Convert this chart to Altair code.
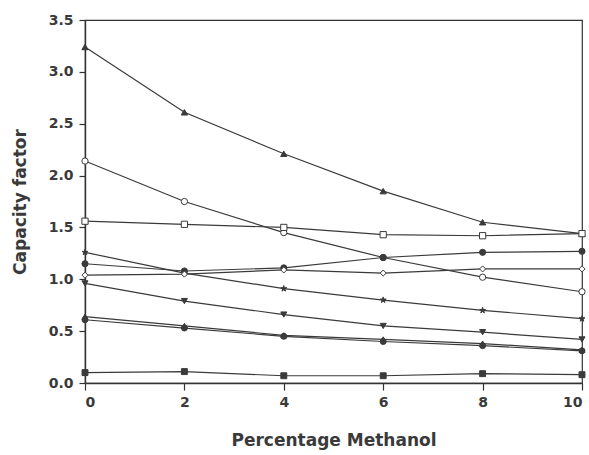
import altair as alt
import pandas as pd

x_vals = [0, 2, 4, 6, 8, 10]

series_names = ["A", "B", "C", "D", "E", "F", "G", "H", "I", "J"]
s_A = [3.24, 2.61, 2.21, 1.85, 1.55, 1.44]   # filled triangle up
s_B = [2.14, 1.75, 1.45, 1.21, 1.02, 0.88]   # open circle
s_C = [1.56, 1.53, 1.50, 1.43, 1.42, 1.44]   # open square
s_D = [1.26, 1.06, 0.91, 0.80, 0.70, 0.62]   # star
s_E = [1.15, 1.08, 1.11, 1.21, 1.26, 1.27]   # small filled circle
s_F = [1.04, 1.05, 1.09, 1.06, 1.10, 1.10]   # small open diamond
s_G = [0.96, 0.79, 0.66, 0.55, 0.49, 0.42]   # filled triangle down
s_H = [0.64, 0.55, 0.46, 0.42, 0.38, 0.32]   # filled triangle up (small)
s_I = [0.61, 0.53, 0.45, 0.40, 0.36, 0.31]   # filled circle
s_J = [0.10, 0.11, 0.07, 0.07, 0.09, 0.08]   # filled square

all_series = [s_A, s_B, s_C, s_D, s_E, s_F, s_G, s_H, s_I, s_J]

star = "M0,-1L0.22,-0.31L0.95,-0.31L0.36,0.12L0.59,0.81L0,0.38L-0.59,0.81L-0.36,0.12L-0.95,-0.31L-0.22,-0.31Z"
shapes = ["triangle-up", "circle", "square", star, "circle", "diamond",
          "triangle-down", "triangle-up", "circle", "square"]
fills = ["#3a3a3a", "white", "white", "#3a3a3a", "#3a3a3a", "white",
         "#3a3a3a", "#3a3a3a", "#3a3a3a", "#3a3a3a"]
sizes = [40, 35, 40, 40, 14, 25, 35, 40, 40, 40]

rows = []
for name, vals in zip(series_names, all_series):
    for x, v in zip(x_vals, vals):
        rows.append({"series": name, "x": x, "y": v})
df = pd.DataFrame(rows)

xenc = alt.X("x:Q", title="Percentage Methanol",
             scale=alt.Scale(domain=[0, 10], nice=False),
             axis=alt.Axis(values=[0, 2, 4, 6, 8, 10], format="d", grid=False,
                           tickSize=7, labelPadding=5, titlePadding=23))
yenc = alt.Y("y:Q", title="Capacity factor",
             scale=alt.Scale(domain=[0, 3.5], nice=False),
             axis=alt.Axis(values=[0, 0.5, 1.0, 1.5, 2.0, 2.5, 3.0, 3.5], format=".1f",
                           grid=False, tickSize=6, labelPadding=6, titlePadding=19))

lines = alt.Chart(df).mark_line(color="#3a3a3a", strokeWidth=1.2).encode(
    x=xenc, y=yenc, detail="series:N")

points = alt.Chart(df).mark_point(filled=False, stroke="#3a3a3a", strokeWidth=1, opacity=1).encode(
    x="x:Q", y="y:Q",
    shape=alt.Shape("series:N", scale=alt.Scale(domain=series_names, range=shapes), legend=None),
    fill=alt.Fill("series:N", scale=alt.Scale(domain=series_names, range=fills), legend=None),
    size=alt.Size("series:N", scale=alt.Scale(domain=series_names, range=sizes), legend=None),
)

chart = (lines + points).properties(
    width=497, height=363,
    autosize=alt.AutoSizeParams(type="none"),
    padding={"left": 85, "top": 20, "right": 7, "bottom": 72},
    background="white",
).configure_view(
    stroke="#333333", strokeWidth=1.2
).configure_axis(
    domainColor="#333333", domainWidth=1.4, tickColor="#333333", tickWidth=1.2,
    labelFont="DejaVu Sans", labelFontSize=14, labelFontWeight="bold", labelColor="#3a3a3a",
    titleFont="DejaVu Sans", titleFontSize=17, titleFontWeight="bold", titleColor="#3a3a3a",
)

chart.save("out.html", embed_options={"renderer": "svg", "actions": False})
